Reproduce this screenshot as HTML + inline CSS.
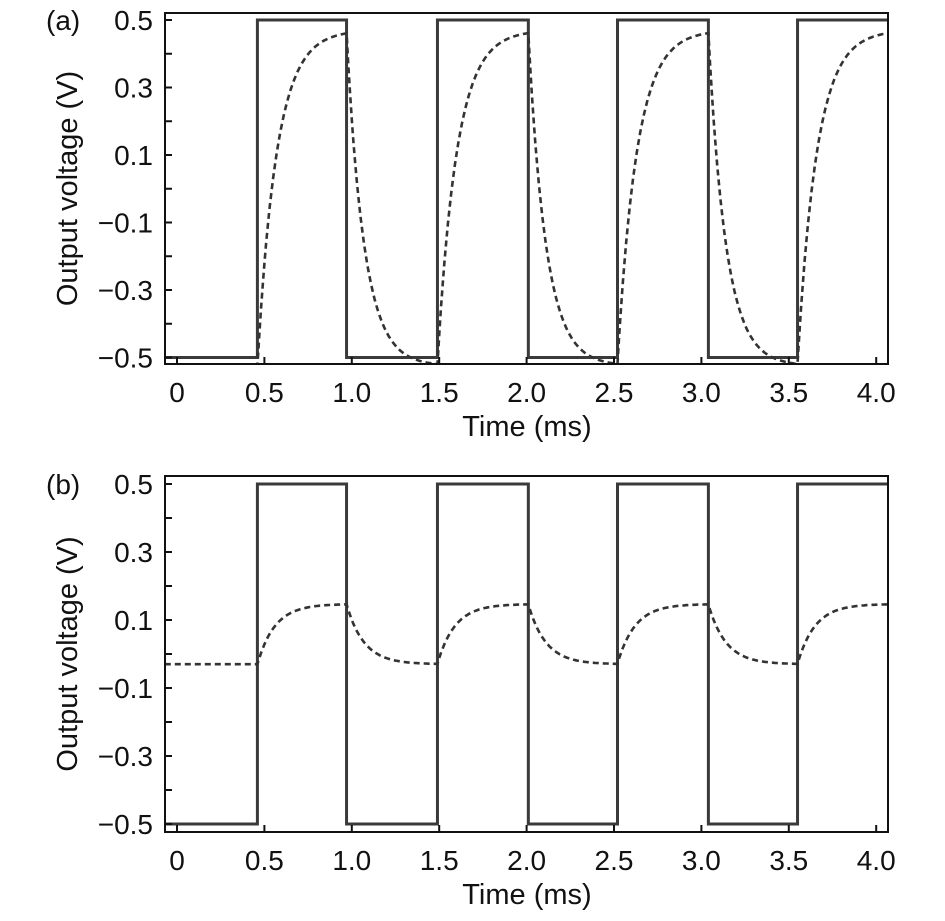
<!DOCTYPE html>
<html><head><meta charset="utf-8"><style>
body{margin:0;background:#fff;}
svg{display:block;font-family:"Liberation Sans",sans-serif;}
</style></head><body>
<svg id="fig" width="945" height="921" viewBox="0 0 945 921"></svg>
<script>
// shared data
const edgeTimes = [-0.07, 0.46, 0.97, 1.49, 2.01, 2.52, 3.04, 3.55, 4.07];
const squareLevels = [-0.5, 0.5, -0.5, 0.5, -0.5, 0.5, -0.5, 0.5];
const xTicks = [0, 0.5, 1.0, 1.5, 2.0, 2.5, 3.0, 3.5, 4.0];
const xTickLabels = ["0","0.5","1.0","1.5","2.0","2.5","3.0","3.5","4.0"];
const yTicks = [0.5, 0.3, 0.1, -0.1, -0.3, -0.5];
const yTickLabels = ["0.5","0.3","0.1","\u22120.1","\u22120.3","\u22120.5"];
const yMinor = [0.4, 0.2, 0, -0.2, -0.4];
// response plateau levels (low, high) and time constants (ms)
const respA = [-0.525, 0.47];
const tauA = [0.11, 0.1];
const respB = [-0.03, 0.147];
const tauB = [0.1, 0.1];

const NS = "http://www.w3.org/2000/svg";
const svg = document.getElementById('fig');
function el(tag, attrs, parent){const e=document.createElementNS(NS,tag);for(const k in attrs)e.setAttribute(k,attrs[k]);(parent||svg).appendChild(e);return e;}

function panel(label, top, bottom, y05, yScalePx, resp, tau, nameP){
  const L=165, R=888, x0=177, pxPerMs=174.8;
  const X=t=>x0+t*pxPerMs;
  const Y=v=>y05+(0.5-v)*yScalePx;
  const g=el('g',{});
  
  
  const clipId=nameP+'clip';
  const cp=el('clipPath',{id:clipId},g); el('rect',{x:L,y:top,width:R-L,height:bottom-top},cp);
  let d='';
  for(let i=0;i<squareLevels.length;i++){
    const y=Y(squareLevels[i]);
    d+=(i===0?'M':'L')+X(edgeTimes[i])+','+y+' L'+X(edgeTimes[i+1])+','+y+' ';
  }
  const sq=el('path',{d:d,fill:'none',stroke:'#3a3a3a','stroke-width':3,'clip-path':'url(#'+clipId+')'},g);
  
  
  let pts=[]; let v=resp[0];
  for(let i=0;i<squareLevels.length;i++){
    const hi=squareLevels[i]>0; const target=hi?resp[1]:resp[0]; const tc=hi?tau[0]:tau[1];
    const t0=edgeTimes[i], t1=edgeTimes[i+1]; const v0=v;
    for(let t=t0;t<=t1+1e-9;t+=0.01){ v=target+(v0-target)*Math.exp(-(t-t0)/tc); pts.push(X(t).toFixed(1)+','+Y(v).toFixed(1)); }
  }
  const rs=el('polyline',{points:pts.join(' '),fill:'none',stroke:'#333','stroke-width':2.6,'stroke-dasharray':'6,4','clip-path':'url(#'+clipId+')'},g);
  
  
  const fr=el('rect',{x:L,y:top,width:R-L,height:bottom-top,fill:'none',stroke:'#111','stroke-width':2},g);
  
  
  yTicks.forEach((t,i)=>{
    el('line',{x1:L,x2:L+7,y1:Y(t),y2:Y(t),stroke:'#111','stroke-width':2},g);
    const tx=el('text',{x:L-12,y:Y(t)+10,'text-anchor':'end','font-size':28,fill:'#111'},g);
    tx.textContent=yTickLabels[i];
    
    
  });
  yMinor.forEach(t=>el('line',{x1:L,x2:L+7,y1:Y(t),y2:Y(t),stroke:'#111','stroke-width':2},g));
  xTicks.forEach((t,i)=>{
    el('line',{x1:X(t),x2:X(t),y1:bottom,y2:bottom-7,stroke:'#111','stroke-width':2},g);
    const tx=el('text',{x:X(t),y:bottom+38,'text-anchor':'middle','font-size':28,fill:'#111'},g);
    tx.textContent=xTickLabels[i];
    
    
  });
  const xt=el('text',{x:527,y:bottom+72,'text-anchor':'middle','font-size':29,fill:'#111'},g);
  xt.textContent='Time (ms)';
  
  
  const cy=(top+bottom)/2;
  const yt=el('text',{x:77,y:cy,'text-anchor':'middle','font-size':29,fill:'#111',transform:'rotate(-90 77 '+cy+')'},g);
  yt.textContent='Output voltage (V)';
  
  
  const pl=el('text',{x:46,y:y05+10,'font-size':28,fill:'#111'},g);
  pl.textContent=label;
  
  
}
panel('(a)', 13, 364, 20, 337.5, respA, tauA, 'a');
panel('(b)', 476, 832, 484, 340, respB, tauB, 'b');
</script>
</body></html>
